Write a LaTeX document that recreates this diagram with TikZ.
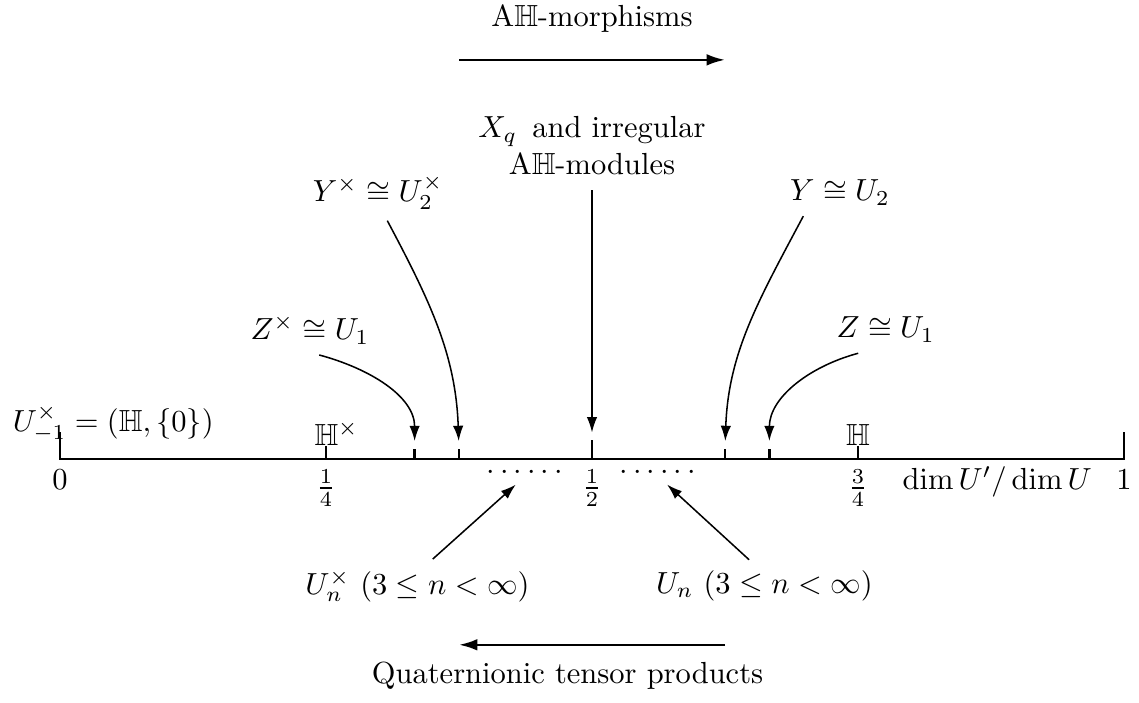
\documentclass[tikz,border=0pt]{standalone}
\usepackage{amssymb}
\usetikzlibrary{arrows.meta,positioning}

\tikzset{
    eixo/.style={line width=0.8pt},
    aponta/.style={-{Latex[length=5pt,width=3.4pt]}, line width=0.5pt, shorten >=2.5pt},
    sentido/.style={-{Latex[length=6pt,width=3.8pt]}, line width=0.8pt}
}

\begin{document}
\begin{tikzpicture}[x=12.26cm, y=1cm]
        \useasboundingbox (-0.0564,-2.80) rectangle (1.0141,5.29);

        % eixo de 0 a 1
        \draw[eixo] (0,0.31) -- (0,0) -- (1,0) -- (1,0.31);
        \foreach \x/\h/\nome in {
            0.25/0.15/qa,
            0.3333/0.12/za,
            0.375/0.12/ya,
            0.5/0.22/meio,
            0.625/0.12/yb,
            0.6667/0.12/zb,
            0.75/0.15/qb}{
            \draw[eixo] (\x,0) -- (\x,\h) coordinate (\nome);
        }

        % valores no eixo
        \node (zero) [below] at (0,0) {$0$};
        \foreach \x/\nome/\lab in {
            0.25/fa/{$\frac14$},
            0.5/fb/{$\frac12$},
            0.75/fc/{$\frac34$}}{
            \node (\nome) [below] at (\x,0) {\lab};
        }
        \node (one) [below] at (1,0) {$1$};
        \node (razao) [base left=1pt of one] {$\dim U'/\dim U$};
        \node (pa) [anchor=base] at (0.437,-0.24) {$\cdots\cdots$};
        \node (pb) [anchor=base] at (0.562,-0.24) {$\cdots\cdots$};

        % rótulos acima do eixo
        \node (um) [anchor=west] at (-0.0545,0.41) {$U_{-1}^{\times}=(\mathbb{H},\{0\})$};
        \node (hx) [above=0pt, inner sep=0pt, xshift=3.5pt] at (qa) {$\mathbb{H}^{\times}$};
        \node (h) [above=0pt, inner sep=0pt] at (qb) {$\mathbb{H}$};
        \node (zx) at (0.235,1.49) {$Z^{\times}\cong U_1$};
        \node (yx) at (0.299,3.07) {$Y^{\times}\cong U_2^{\times}$};
        \node (xq) [align=center] at (0.5,3.61) {$X_q$\ \,and irregular\\A$\mathbb{H}$-modules};
        \node (y) at (0.733,3.07) {$Y\cong U_2$};
        \node (z) at (0.776,1.49) {$Z\cong U_1$};

        % setas para o eixo
        \draw[aponta] ([xshift=3pt]zx.south) to[out=-15,in=90] (za);
        \draw[aponta] ([xshift=3pt]yx.south) to[out=-62,in=92] (ya);
        \draw[aponta, line width=0.4pt, shorten <=1.5pt] (xq.south) -- (meio);
        \draw[aponta] ([xshift=-12pt]y.south) to[out=242,in=88] (yb);
        \draw[aponta] ([xshift=-9pt]z.south) to[out=195,in=90] (zb);

        % rótulos abaixo do eixo
        \node (unx) at (0.336,-1.46) {$U_n^{\times}\ (3\leq n<\infty)$};
        \node (un) at (0.662,-1.46) {$U_n\ (3\leq n<\infty)$};
        \draw[aponta, shorten >=0pt] ([xshift=5pt]unx.north) -- ([xshift=-3pt,yshift=2pt]pa.south);
        \draw[aponta, shorten >=0pt] ([xshift=-5pt]un.north) -- ([xshift=3pt,yshift=2pt]pb.south);

        % sentidos
        \node (morf) at (0.5,5.08) {A$\mathbb{H}$-morphisms};
        \coordinate (ma) at (0.375,4.60);
        \coordinate (mb) at (0.625,4.60);
        \draw[sentido] (ma) -- (mb);
        \coordinate (ta) at (0.625,-2.14);
        \coordinate (tb) at (0.375,-2.14);
        \draw[sentido] (ta) -- (tb);
        \node (tens) at (0.477,-2.50) {Quaternionic tensor products};
    \end{tikzpicture}
\end{document}
